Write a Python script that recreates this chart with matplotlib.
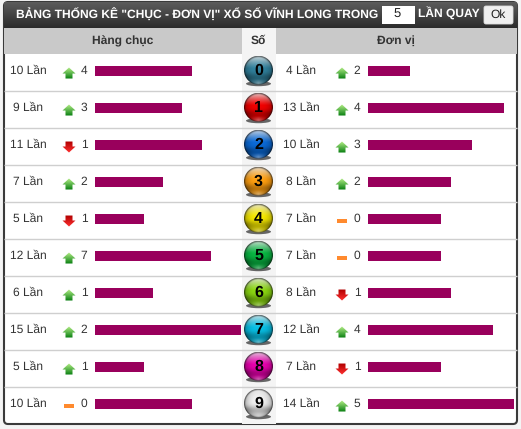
import numpy as np
import matplotlib
matplotlib.use("Agg")
import matplotlib.pyplot as plt
from matplotlib.patches import Rectangle, Circle, FancyBboxPatch, Polygon, Ellipse

plt.rcParams['font.family'] = ['Liberation Sans', 'DejaVu Sans']
plt.rcParams['text.hinting'] = 'none'
plt.rcParams['text.hinting_factor'] = 1

digits = list(range(10))
tens_counts = [10, 9, 11, 7, 5, 12, 6, 15, 5, 10]
tens_change = [4, 3, 1, 2, 1, 7, 1, 2, 1, 0]
tens_trend = ['up', 'up', 'down', 'up', 'down', 'up', 'up', 'up', 'up', 'flat']
unit_counts = [4, 13, 10, 8, 7, 7, 8, 12, 7, 14]
unit_change = [2, 4, 3, 2, 0, 0, 1, 4, 1, 5]
unit_trend = ['up', 'up', 'up', 'up', 'flat', 'flat', 'down', 'up', 'down', 'up']
ball_colors = ['#2f7d98', '#e80000', '#0a66d0', '#f79a10', '#ecdf00',
               '#08b040', '#86d010', '#08b8dc', '#e000a8', '#e8e8e8']
title = 'BẢNG THỐNG KÊ "CHỤC - ĐƠN VỊ" XỔ SỐ VĨNH LONG TRONG'
suffix = 'LẦN QUAY'
spin_value = '5'
ok_label = 'Ok'
head_left, head_mid, head_right = 'Hàng chục', 'Số', 'Đơn vị'
BAR = '#99005c'

W, H = 521, 429
fig = plt.figure(figsize=(W / 100, H / 100), dpi=100, facecolor='#f4f4f4')
ax = fig.add_axes([0, 0, 1, 1])
ax.set_xlim(0, W)
ax.set_ylim(H, 0)
ax.axis('off')

TOP, ROW, N = 54, 37, 10
OFFSET = 0.46
centers = [TOP + ROW * (i + OFFSET) for i in range(N)]

# frame and body
ax.add_patch(FancyBboxPatch((4, 2), 513, 422, boxstyle='round,pad=0,rounding_size=4',
                            fc='white', ec='#3a3a3a', lw=1.5, zorder=1))
# header gradient
grad = np.linspace(0, 1, 26)[:, None]
c0, c1 = np.array([0.36, 0.36, 0.36]), np.array([0.17, 0.17, 0.17])
img = (c0[None, None, :] * (1 - grad[..., None]) + c1[None, None, :] * grad[..., None])
im = ax.imshow(img, extent=(3.5, 517.5, 28, 2), aspect='auto', zorder=2)
clip = FancyBboxPatch((3.5, 1.5), 514, 40, boxstyle='round,pad=0,rounding_size=4', transform=ax.transData)
im.set_clip_path(clip)
ax.text(15.5, 13.5, title, color='white', fontsize=8.75, fontweight='bold', va='center', zorder=4)
ax.add_patch(Rectangle((382, 6), 33, 18, fc='white', ec='none', zorder=3))
ax.text(397.5, 15, spin_value, color='#222222', fontsize=9, ha='center', va='center', zorder=4)
ax.text(418, 13.5, suffix, color='white', fontsize=8.75, fontweight='bold', va='center', zorder=4)
ax.add_patch(FancyBboxPatch((484, 6), 29, 18, boxstyle='round,pad=0,rounding_size=2',
                            fc='#efefef', ec='#dddddd', lw=0.6, zorder=3))
ax.text(498.5, 15, ok_label, color='#222222', fontsize=8.6, ha='center', va='center', zorder=4)

# column heads
ax.add_patch(Rectangle((4, 28), 513, 26, fc='#c9c9c9', ec='none', zorder=2))
ax.add_patch(Rectangle((242, 28), 34, 396, fc='#f4f4f4', ec='none', zorder=2))
ax.text(122.5, 41, head_left, color='#333333', fontsize=8.6, fontweight='bold', ha='center', va='center', zorder=4)
ax.text(258.5, 41, head_mid, color='#333333', fontsize=8.6, fontweight='bold', ha='center', va='center', zorder=4)
ax.text(395.5, 41, head_right, color='#333333', fontsize=8.6, fontweight='bold', ha='center', va='center', zorder=4)

# row rules
for i in range(1, N):
    ax.plot([4, 517], [TOP + ROW * i - 0.5] * 2, color='#cfcfcf', lw=1.0, zorder=3, solid_capstyle='butt')


def trend_icon(cx, cy, kind):
    if kind == 'flat':
        ax.add_patch(Rectangle((cx - 5, cy - 2.5), 10, 4, fc='#ff8a2e', ec='none', zorder=5))
        return
    s = 1 if kind == 'up' else -1
    top_c, bot_c = ('#b4ee88', '#0a8012') if kind == 'up' else ('#b00000', '#ff3030')
    t = np.linspace(0, 1, 16)[:, None, None]
    a, b = np.array(matplotlib.colors.to_rgb(top_c)), np.array(matplotlib.colors.to_rgb(bot_c))
    g = a[None, None, :] * (1 - t) + b[None, None, :] * t
    art = ax.imshow(g, extent=(cx - 7, cx + 7, cy + 6, cy - 6), aspect='auto', zorder=5)
    poly = Polygon([(cx - 6.5, cy + s * 0.5), (cx, cy - s * 5.5), (cx + 6.5, cy + s * 0.5),
                    (cx + 3.5, cy + s * 0.5), (cx + 3.5, cy + s * 5.5), (cx - 3.5, cy + s * 5.5),
                    (cx - 3.5, cy + s * 0.5)], transform=ax.transData)
    art.set_clip_path(poly)


def ball(cx, cy, color, label):
    r = 14.5
    ax.add_patch(Ellipse((cx, cy + 13.5), 25, 5, fc='#333333bb', ec='none', zorder=4))
    base = np.array(matplotlib.colors.to_rgb(color))
    n = 60
    yy, xx = np.mgrid[-1:1:n * 1j, -1:1:n * 1j]
    radius = np.hypot(xx, yy)
    # saturated body, darker toward the sides and just below the middle
    shade = np.clip(1.05 - 0.35 * radius ** 3 - 0.25 * np.exp(-((yy - 0.45) / 0.3) ** 2), 0, 1.1)[..., None]
    rgb = np.clip(base * shade, 0, 1)
    # pale cap on top
    cap = np.clip((-0.15 - yy) / 0.85, 0, 1)[..., None]
    rgb = rgb + (1 - rgb) * cap ** 1.2 * 0.75
    # reflection at the bottom
    low = np.clip((yy - 0.6) / 0.35, 0, 1)[..., None] * np.clip(1 - np.abs(xx) / 0.6, 0, 1)[..., None]
    rgb = rgb + (1 - rgb) * low * 0.45
    # thin dark rim
    rim = np.clip((radius - 0.9) / 0.1, 0, 1)[..., None]
    rgb = rgb * (1 - 0.55 * rim)
    b = ax.imshow(rgb, extent=(cx - r, cx + r, cy + r, cy - r), aspect='auto', zorder=5, interpolation='bilinear')
    b.set_clip_path(Circle((cx, cy), r, transform=ax.transData))
    ax.text(cx, cy + 0.5, label, color='black', fontsize=11.5, fontweight='bold', ha='center', va='center', zorder=6)


TEXT = '#333333'
for i in digits:
    y = centers[i]
    ax.text(28, y, f'{tens_counts[i]} Lần', color=TEXT, fontsize=8.6, ha='center', va='center', zorder=5)
    trend_icon(69, y + 2, tens_trend[i])
    ax.text(84, y, str(tens_change[i]), color=TEXT, fontsize=8.6, ha='center', va='center', zorder=5)
    ball(258.5, y - 0.8, ball_colors[i], str(i))
    ax.text(301.5, y, f'{unit_counts[i]} Lần', color=TEXT, fontsize=8.6, ha='center', va='center', zorder=5)
    trend_icon(342, y + 2, unit_trend[i])
    ax.text(357, y, str(unit_change[i]), color=TEXT, fontsize=8.6, ha='center', va='center', zorder=5)
ax.set_xlim(0, W)
ax.set_ylim(H, 0)


def bars(x0, x1, vmax, values):
    a = fig.add_axes([x0 / W, 1 - (TOP + ROW * N) / H, (x1 - x0) / W, ROW * N / H])
    a.patch.set_alpha(0)
    a.axis('off')
    a.barh(np.arange(N), values, height=10 / ROW, left=0, color=BAR, linewidth=0)
    a.set_xlim(0, vmax)
    a.set_ylim(N - OFFSET, -OFFSET)
    a.set_zorder(5)


bars(95, 240.5, 15, tens_counts)
bars(368, 514, 14, unit_counts)

fig.savefig('out.png', dpi=100, facecolor=fig.get_facecolor())
